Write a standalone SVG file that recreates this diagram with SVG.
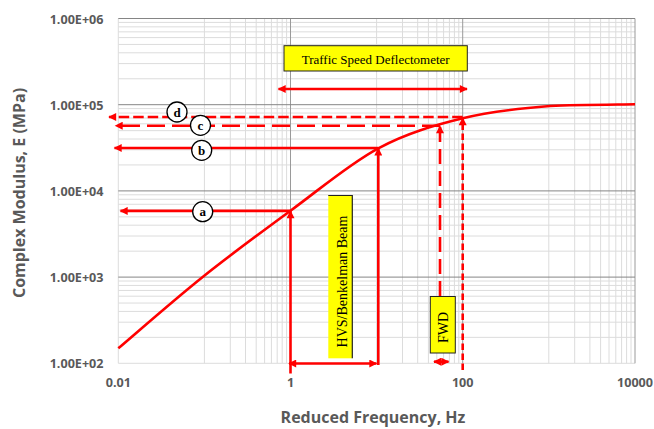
<svg xmlns="http://www.w3.org/2000/svg" width="654" height="429" viewBox="0 0 654 429">
<style>
.mn{stroke:#dcdcdc;stroke-width:1;fill:none}
.mj{stroke:#9a9a9a;stroke-width:1;fill:none}
.mh{stroke:#858585;stroke-width:1;fill:none}
.tk{font-family:"Open Sans","Liberation Sans",sans-serif;font-weight:bold;font-size:12.6px;fill:#595959}
.ttl{font-family:"Open Sans","Liberation Sans",sans-serif;font-weight:bold;font-size:16px;fill:#595959}
.red{stroke:#ff0000;stroke-width:2.6;fill:none}
.lbl{font-family:"Liberation Serif","Times New Roman",serif;fill:#000}
.box{fill:#ffff00;stroke:#222;stroke-width:1}
.cir{fill:#fff;stroke:#000;stroke-width:1.3}
.cl{font-family:"Liberation Serif","Times New Roman",serif;font-weight:bold;font-size:13px;fill:#000;text-anchor:middle}
</style>
<defs>
<marker id="ah" viewBox="0 0 10 10" refX="9" refY="5" markerWidth="9" markerHeight="8" markerUnits="userSpaceOnUse" orient="auto-start-reverse">
<path d="M0,0 L10,5 L0,10 z" fill="#ff0000"/>
</marker>
</defs>
<rect width="654" height="429" fill="#fff"/>
<g id="grid">
<path class="mn" d="M204.4,18.5V363.3M230.3,18.5V363.3M245.5,18.5V363.3M256.2,18.5V363.3M264.6,18.5V363.3M271.4,18.5V363.3M277.2,18.5V363.3M282.2,18.5V363.3M286.6,18.5V363.3M376.6,18.5V363.3M402.5,18.5V363.3M417.7,18.5V363.3M428.4,18.5V363.3M436.8,18.5V363.3M443.6,18.5V363.3M449.4,18.5V363.3M454.4,18.5V363.3M458.8,18.5V363.3M548.8,18.5V363.3M574.7,18.5V363.3M589.9,18.5V363.3M600.6,18.5V363.3M609,18.5V363.3M615.8,18.5V363.3M621.6,18.5V363.3M626.6,18.5V363.3M631,18.5V363.3"/>
<path class="mn" d="M118.3,337.35H635M118.3,322.2H635M118.3,311.4H635M118.3,303.05H635M118.3,296.2H635M118.3,290.45H635M118.3,285.45H635M118.3,281H635M118.3,251.15H635M118.3,236H635M118.3,225.2H635M118.3,216.85H635M118.3,210H635M118.3,204.25H635M118.3,199.25H635M118.3,194.8H635M118.3,164.95H635M118.3,149.8H635M118.3,139H635M118.3,130.65H635M118.3,123.8H635M118.3,118.05H635M118.3,113.05H635M118.3,108.6H635M118.3,78.75H635M118.3,63.6H635M118.3,52.8H635M118.3,44.45H635M118.3,37.6H635M118.3,31.85H635M118.3,26.85H635M118.3,22.4H635"/>
<path class="mn" d="M118.3,18.5V363.3M118.3,363.3H635"/>
<path class="mj" d="M290.5,18.5V363.3M462.7,18.5V363.3M635,18.5V363.3"/>
<path class="mh" d="M118.3,18.5H635M118.3,104.7H635M118.3,190.9H635M118.3,277.1H635"/>
</g>
<g id="axes-labels">
<text class="tk" x="103.5" y="23.5" text-anchor="end">1.00E+06</text>
<text class="tk" x="103.5" y="109.7" text-anchor="end">1.00E+05</text>
<text class="tk" x="103.5" y="195.9" text-anchor="end">1.00E+04</text>
<text class="tk" x="103.5" y="282.1" text-anchor="end">1.00E+03</text>
<text class="tk" x="103.5" y="368.3" text-anchor="end">1.00E+02</text>
<text class="tk" x="118.3" y="387" text-anchor="middle">0.01</text>
<text class="tk" x="290.5" y="387" text-anchor="middle">1</text>
<text class="tk" x="462.7" y="387" text-anchor="middle">100</text>
<text class="tk" x="635" y="387" text-anchor="middle">10000</text>
<text class="ttl" x="373" y="423" text-anchor="middle">Reduced Frequency, Hz</text>
<text class="ttl" transform="translate(25,193) rotate(-90)" text-anchor="middle">Complex Modulus, E (MPa)</text>
</g>
<g id="curve">
<path class="red" d="M118.3,348.3 C132.4,336.4 174.3,299.6 203,276.7 C231.7,253.8 261.3,232.1 290.5,210.7 C319.7,189.3 349.6,163.7 378.3,148.3 C407,132.9 434.1,125.4 462.7,118.3 C491.3,111.3 521.3,108.3 550,106 C578.7,104.6 620.8,104.6 635,104.3"/>
</g>
<g id="connectors">
<line class="red" x1="462.7" y1="117" x2="109" y2="117" stroke-dasharray="10.5 4" marker-end="url(#ah)"/>
<line class="red" x1="440" y1="125.7" x2="115.5" y2="125.7" stroke-dasharray="18 7" marker-end="url(#ah)"/>
<line class="red" x1="378.3" y1="148" x2="114.5" y2="148" marker-end="url(#ah)"/>
<line class="red" x1="290.5" y1="210.9" x2="120.5" y2="210.9" marker-end="url(#ah)"/>
<line class="red" x1="290.5" y1="373.5" x2="290.5" y2="211" marker-end="url(#ah)"/>
<line class="red" x1="378.3" y1="365" x2="378.3" y2="148.3" marker-end="url(#ah)"/>
<line class="red" x1="440" y1="296" x2="440" y2="126" stroke-dasharray="15 7" marker-end="url(#ah)"/>
<line class="red" x1="462.7" y1="370" x2="462.7" y2="118" stroke-dasharray="6.5 3.5" marker-end="url(#ah)"/>
<line class="red" x1="278.5" y1="89" x2="467" y2="89" marker-start="url(#ah)" marker-end="url(#ah)"/>
<line class="red" x1="289" y1="363.5" x2="376.5" y2="363.5" marker-start="url(#ah)" marker-end="url(#ah)"/>
<line class="red" x1="434" y1="361.7" x2="448.5" y2="361.7" marker-start="url(#ah)" marker-end="url(#ah)"/>
</g>
<g id="tsd">
<rect class="box" x="284" y="45.7" width="183.3" height="25.3"/>
<text class="lbl" x="375.7" y="63.5" font-size="13" text-anchor="middle">Traffic Speed Deflectometer</text>
</g>
<g id="hvs">
<rect x="328.3" y="195" width="24" height="163.3" fill="#ffff00"/>
<path d="M328.3,195.5H352.3V358.3" stroke="#222" stroke-width="1.2" fill="none"/>
<text class="lbl" transform="translate(346.5,281.5) rotate(-90)" font-size="14" text-anchor="middle">HVS/Benkelman Beam</text>
</g>
<g id="fwd">
<rect class="box" x="430.3" y="296.5" width="25" height="56.5"/>
<text class="lbl" transform="translate(447.8,327.5) rotate(-90)" font-size="14" text-anchor="middle">FWD</text>
</g>
<g id="label-d"><circle class="cir" cx="177" cy="112" r="10"/><text class="cl" x="177" y="116.5">d</text></g>
<g id="label-c"><circle class="cir" cx="200.5" cy="125.3" r="10"/><text class="cl" x="200.5" y="129.8">c</text></g>
<g id="label-b"><circle class="cir" cx="201.7" cy="150.3" r="10"/><text class="cl" x="201.7" y="154.8">b</text></g>
<g id="label-a"><circle class="cir" cx="202.7" cy="211.7" r="10"/><text class="cl" x="202.7" y="216.2">a</text></g>
</svg>
